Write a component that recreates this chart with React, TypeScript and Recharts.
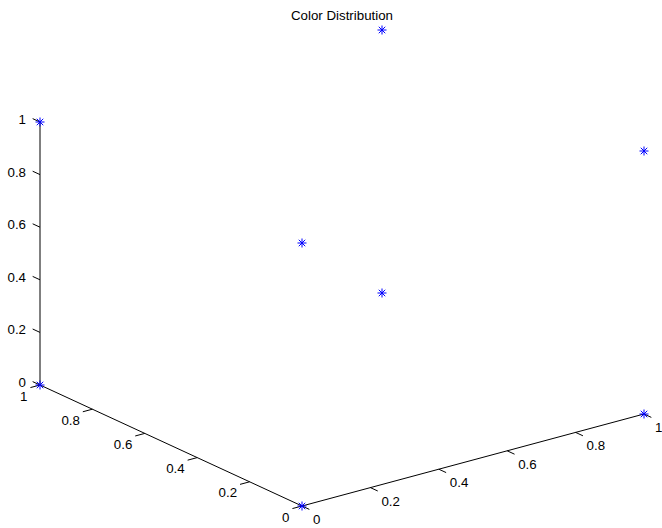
import React from "react";
import { ReferenceLine, Scatter, ScatterChart, XAxis, YAxis } from "recharts";

// RGB cube corners plotted in the reference
const red = [0, 1, 0, 0, 1, 1, 0, 1];
const green = [0, 0, 1, 0, 1, 0, 1, 1];
const blue = [0, 0, 0, 1, 0, 1, 1, 1];

const tickValues = [0, 0.2, 0.4, 0.6, 0.8, 1];
const tickLabels = ["0", "0.2", "0.4", "0.6", "0.8", "1"];

const title = "Color Distribution";

// view transform: screen direction of one unit step along each 3d axis
const VIEW = {
  x: [342, 92],
  y: [-262, 121],
  z: [0, 263],
};
const TICK_LEN = 0.028;
const FONT = '"Liberation Sans", Arial, Helvetica, sans-serif';

const project = (x: number, y: number, z: number) => ({
  u: VIEW.x[0] * x + VIEW.y[0] * y + VIEW.z[0] * z,
  w: VIEW.x[1] * x + VIEW.y[1] * y + VIEW.z[1] * z,
});

const points = red.map((r, i) => project(r, green[i], blue[i]));

const xLabels = tickValues.map((t, i) => ({ ...project(t, 0, 0), text: tickLabels[i] }));
const yLabels = tickValues.map((t, i) => ({ ...project(0, t, 0), text: tickLabels[i] }));
const zLabels = tickValues.map((t, i) => ({ ...project(0, 1, t), text: tickLabels[i] }));

const seg = (a: number[], b: number[]) => {
  const p = project(a[0], a[1], a[2]);
  const q = project(b[0], b[1], b[2]);
  return [
    { x: p.u, y: p.w },
    { x: q.u, y: q.w },
  ];
};

const axisSegments = [
  seg([0, 0, 0], [1, 0, 0]),
  seg([0, 0, 0], [0, 1, 0]),
  seg([0, 1, 0], [0, 1, 1]),
];

const tickSegments = [
  ...tickValues.map((t) => seg([t, 0, 0], [t, -TICK_LEN, 0])),
  ...tickValues.map((t) => seg([0, t, 0], [-TICK_LEN, t, 0])),
  ...tickValues.map((t) => seg([0, 1, t], [0, 1 + TICK_LEN, t])),
];

const Asterisk = (props: any) => {
  const { cx, cy } = props;
  const r = 4.5;
  const d = r * 0.72;
  return (
    <g stroke="#0000ff" strokeWidth={1}>
      <line x1={cx - r} y1={cy} x2={cx + r} y2={cy} />
      <line x1={cx} y1={cy - r} x2={cx} y2={cy + r} />
      <line x1={cx - d} y1={cy - d} x2={cx + d} y2={cy + d} />
      <line x1={cx - d} y1={cy + d} x2={cx + d} y2={cy - d} />
    </g>
  );
};

const makeLabel =
  (dx: number, dy: number, anchor: "start" | "end") => (props: any) => {
    const { cx, cy, payload } = props;
    return (
      <text
        x={cx + dx}
        y={cy + dy}
        textAnchor={anchor}
        dominantBaseline="central"
        fontSize={13.3}
        fontFamily={FONT}
        fill="#000"
      >
        {payload.text}
      </text>
    );
  };

const XLabel = makeLabel(11, 13.5, "start");
const YLabel = makeLabel(-12.5, 11, "end");
const ZLabel = makeLabel(-14, -2.5, "end");

export default function App() {
  return (
    <div
      style={{
        position: "absolute",
        left: 0,
        top: 0,
        width: 662,
        height: 528,
        background: "#fff",
      }}
    >
      <div
        style={{
          position: "absolute",
          left: 0,
          width: 684,
          top: 8,
          lineHeight: "15px",
          textAlign: "center",
          fontFamily: FONT,
          fontSize: 13.3,
          color: "#000",
        }}
      >
        {title}
      </div>
      <ScatterChart
        width={662}
        height={528}
        margin={{ top: 0, right: 0, bottom: 0, left: 0 }}
      >
        <XAxis type="number" dataKey="u" domain={[-302, 360]} hide />
        <YAxis type="number" dataKey="w" domain={[-22, 506]} hide />
        {axisSegments.map((s, i) => (
          <ReferenceLine
            key={`axis-${i}`}
            segment={s}
            stroke="#000"
            strokeWidth={1}
            ifOverflow="visible"
          />
        ))}
        {tickSegments.map((s, i) => (
          <ReferenceLine
            key={`tick-${i}`}
            segment={s}
            stroke="#000"
            strokeWidth={1}
            ifOverflow="visible"
          />
        ))}
        <Scatter data={xLabels} shape={XLabel} isAnimationActive={false} />
        <Scatter data={yLabels} shape={YLabel} isAnimationActive={false} />
        <Scatter data={zLabels} shape={ZLabel} isAnimationActive={false} />
        <Scatter data={points} shape={Asterisk} isAnimationActive={false} />
      </ScatterChart>
    </div>
  );
}
